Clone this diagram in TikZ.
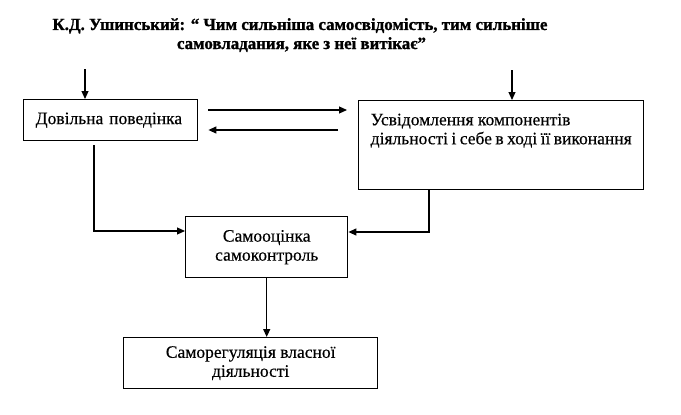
\documentclass[tikz,border=0pt]{standalone}
\usepackage{fontspec}
\setmainfont{Liberation Serif}
\newfontfamily\bodyfont[FakeBold=0.4]{Liberation Serif}
\newfontfamily\titlefont[FakeBold=1.2]{Liberation Serif Bold}
\usepackage{graphicx}
\usetikzlibrary{arrows.meta}
\begin{document}
\begin{tikzpicture}[x=1pt,y=-1pt,
  box/.style={draw, line width=1.4pt, inner sep=0pt, font=\bodyfont\fontsize{17.5}{19}\selectfont},
  arr/.style={line width=1.2pt, -{Triangle[length=8pt,width=7pt]}},
  ttl/.style={anchor=base, inner sep=0pt, font=\titlefont\fontsize{17}{19}\selectfont}]
\useasboundingbox (0,0) rectangle (681,415);
% title
\node[ttl] (t1) at (300,30) {\resizebox{495pt}{\height}{К.Д. Ушинський: “ Чим сильніша самосвідомість, тим сильніше}};
\node[ttl] (t2) at (301.5,49) {\resizebox{249pt}{\height}{самовладания, яке з неї витікає”}};
% boxes
\node[box, minimum width=174pt, minimum height=41pt, anchor=north west, text width=150pt, align=left] (b1) at (23,99) {Довільна поведінка};
\node[box, anchor=north west, inner xsep=12pt, inner ysep=0pt] (b2) at (358,100) {\parbox[c][89pt][t]{261pt}{\vspace*{13pt}Усвідомлення компонентів\\ діяльності і себе в ході її виконання}};
\node[box, minimum width=162pt, minimum height=61pt, anchor=north west, align=center] (b3) at (185,216) {Самооцінка\\самоконтроль};
\node[box, minimum width=254pt, minimum height=51pt, anchor=north west, align=center] (b4) at (123,337) {Саморегуляція власної\\діяльності};
% connectors
\coordinate (s1) at (85,69);
\coordinate (s2) at (512,70);
\draw[arr] (s1) -- (s1 |- b1.north);
\draw[arr] (s2) -- (s2 |- b2.north);
\draw[arr, shorten <=10pt, shorten >=11pt] (b1.east |- 0,110) -- (b2.west |- 0,110);
\draw[arr, shorten <=20pt, shorten >=10pt] (b2.west |- 0,130) -- (b1.east |- 0,130);
\draw[arr, shorten <=4pt] (b1.south -| 94,0) |- (b3.west |- 0,231);
\draw[arr] (b2.south -| 429,0) |- (b3.east |- 0,232);
\draw[arr] (b3.south) -- (b3.south |- b4.north);
\end{tikzpicture}
\end{document}
